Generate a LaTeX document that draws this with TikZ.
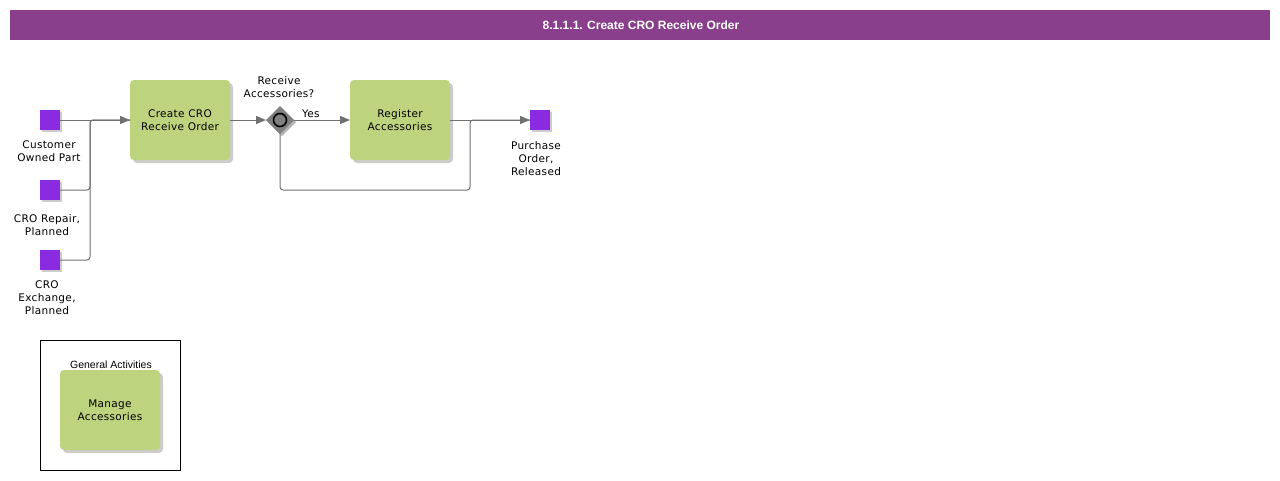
\documentclass[tikz,border=0pt]{standalone}
\usepackage{fontspec}
\setmainfont[LetterSpace=3]{DejaVu Sans}
\newfontfamily\arialfont{Liberation Sans}
\usetikzlibrary{arrows.meta,shapes.geometric}
\definecolor{titlebg}{HTML}{8A3F8C}
\definecolor{taskfill}{HTML}{BED37E}
\definecolor{evfill}{HTML}{8A2BE2}
\definecolor{linecol}{HTML}{707070}
\definecolor{gwfill}{HTML}{808080}
\begin{document}
\begin{tikzpicture}[x=1pt,y=-1pt,
  lbl/.style={font=\fontsize{10.5}{13}\selectfont, align=center, inner sep=0pt},
  taskbox/.style={draw=none, fill=taskfill, rounded corners=4pt, minimum width=100pt, minimum height=80pt, inner sep=0pt, outer sep=0pt, align=center, font=\fontsize{10.5}{13.5}\selectfont},
  shadowbox/.style={fill=black, opacity=0.2, rounded corners=4pt},
  evbox/.style={fill=evfill, minimum width=20pt, minimum height=20pt, inner sep=0pt, outer sep=0pt},
  line/.style={draw=linecol, line width=1pt, rounded corners=3pt},
  flow/.style={line, -{Triangle[length=10pt,width=8pt]}}
]
\useasboundingbox (0,0) rectangle (1280,480);
% title
\fill[titlebg] (10,10) rectangle (1270,40);
\node[text=white, font=\arialfont\bfseries\fontsize{12}{14}\selectfont, inner sep=0pt] (title) at (641,25) {8.1.1.1. Create CRO Receive Order};

% shadows
\foreach \x/\y in {130/80,350/80,60/370}{
  \fill[shadowbox] (\x+3,\y+3) rectangle (\x+103,\y+83);
}
\foreach \x/\y in {40/110,40/180,40/250,530/110}{
  \fill[black, opacity=0.2] (\x+2,\y+2) rectangle (\x+22,\y+22);
}

% tasks
\node[taskbox] (t1) at (180,120) {Create CRO\\Receive Order};
\node[taskbox] (t2) at (400,120) {Register\\Accessories};

% events
\node[evbox] (e1) at (50,120) {};
\node[evbox] (e2) at (50,190) {};
\node[evbox] (e3) at (50,260) {};
\node[evbox] (p) at (540,120) {};
\node[lbl, anchor=north] (e1l) at (49,141) {Customer\\Owned Part};
\node[lbl, anchor=north] (e2l) at (47,214) {CRO Repair,\\Planned};
\node[lbl, anchor=north] (e3l) at (47,281) {CRO\\Exchange,\\Planned};
\node[lbl, anchor=north] (pl) at (536,141) {Purchase\\Order,\\Released};

% gateway
\fill[black, opacity=0.3] (282,108) -- (296,122) -- (282,136) -- (268,122) -- cycle;
\node[diamond, fill=gwfill, minimum width=28pt, minimum height=28pt, inner sep=0pt, outer sep=0pt] (g) at (280,120) {};
\draw[black, line width=1.6pt, fill=gwfill] (g.center) circle (6.5pt);
\node[lbl, anchor=south] (gl) at (279,98) {Receive\\Accessories?};

% connectors
\coordinate (j1) at (90,120);
\coordinate (j2) at (470,120);
\coordinate (j3) at (470,190);
\draw[flow] (e1.east) -- (t1.west);
\draw[line] (e2.east) -| (j1) -- (t1.west);
\draw[line] (e3.east) -| (j1) -- (t1.west);
\draw[flow] (t1.east) -- (g.west);
\draw[flow] (g.east) -- node[lbl, pos=0.3, anchor=south, yshift=2pt] (yes) {Yes} (t2.west);
\draw[flow] (t2.east) -- (p.west);
\draw[line] (g.south) |- (j3) -- (j2) -- (p.west);

% general activities
\draw[black, line width=0.8pt] (40.5,340.5) rectangle (180.5,470.5);
\node[font=\arialfont\fontsize{10.5}{12}\selectfont, inner sep=0pt] (ga) at (111,365) {General Activities};
\node[taskbox] (t3) at (110,410) {Manage\\Accessories};
\end{tikzpicture}
\end{document}
